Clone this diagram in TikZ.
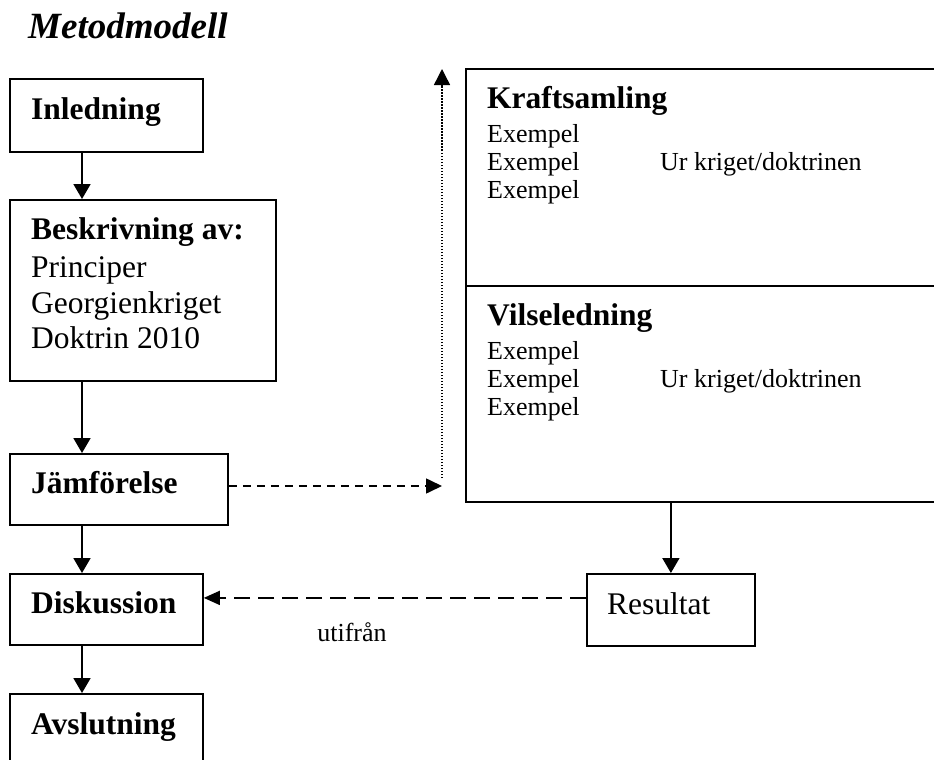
\documentclass[tikz,border=0pt]{standalone}
\usepackage{fontspec}
\setmainfont{Liberation Serif}
\usetikzlibrary{arrows.meta,calc}
\begin{document}
\begin{tikzpicture}[x=1pt,y=-1pt,
  box/.style={draw, line width=1.8pt, inner sep=0pt, anchor=north west},
  bigtext/.style={font=\fontsize{31.5}{36}\selectfont, anchor=base west, inner sep=0pt},
  headtext/.style={font=\fontsize{31.5}{36}\selectfont\bfseries, anchor=base west, inner sep=0pt},
  smalltext/.style={font=\fontsize{26}{28}\selectfont, anchor=base west, inner sep=0pt},
  arr/.style={line width=1.8pt, -{Triangle[length=15pt,width=17pt]}},
  dasharr/.style={line width=1.6pt, dash pattern=on 8pt off 6pt, -{Triangle[length=16pt,width=15pt]}},
  longdasharr/.style={line width=1.6pt, dash pattern=on 16pt off 8pt, -{Triangle[length=16pt,width=14pt]}},
  dotarr/.style={line width=1.4pt, dash pattern=on 1.5pt off 1.5pt, -{Triangle[length=16pt,width=16pt]}}
]
\clip (0,0) rectangle (934,760);
\fill[white] (0,0) rectangle (934,760);

% title
\node[font=\fontsize{37}{40}\selectfont\bfseries\itshape, anchor=base west, inner sep=0pt] (title) at (28,39) {Metodmodell};

% left column boxes
\node[box, minimum width=193pt, minimum height=73pt] (inl) at (9,78) {};
\node[box, minimum width=266pt, minimum height=181pt] (besk) at (9,199) {};
\node[box, minimum width=218pt, minimum height=71pt] (jam) at (9,453) {};
\node[box, minimum width=193pt, minimum height=71pt] (disk) at (9,573) {};
\node[box, minimum width=193pt, minimum height=90pt] (avsl) at (9,693) {};

% right boxes
\node[box, minimum width=520pt, minimum height=217pt] (kraft) at (465,68) {};
\node[box, minimum width=520pt, minimum height=216pt] (vils) at (465,285) {};
\node[box, minimum width=168pt, minimum height=72pt] (res) at (586,573) {};

% texts left
\node[headtext] (tinl) at (31,119) {Inledning};
\node[headtext] (tbesk) at (31,239) {Beskrivning av:};
\node[bigtext] (tprin) at (31,277) {Principer};
\node[bigtext] (tgeo) at (31,313) {Georgienkriget};
\node[bigtext] (tdok) at (31,348) {Doktrin 2010};
\node[headtext] (tjam) at (31,493) {Jämförelse};
\node[headtext] (tdisk) at (31,613) {Diskussion};
\node[headtext] (tavsl) at (31,734) {Avslutning};

% texts right
\node[headtext] (tkraft) at (487,108) {Kraftsamling};
\node[smalltext] (ke1) at (487,142) {Exempel};
\node[smalltext] (ke2) at (487,170) {Exempel};
\node[smalltext] (ke3) at (487,198) {Exempel};
\node[smalltext] (kur) at (660,170) {Ur kriget/doktrinen};
\node[headtext] (tvils) at (487,325) {Vilseledning};
\node[smalltext] (ve1) at (487,359) {Exempel};
\node[smalltext] (ve2) at (487,387) {Exempel};
\node[smalltext] (ve3) at (487,415) {Exempel};
\node[smalltext] (vur) at (660,387) {Ur kriget/doktrinen};
\node[bigtext] (tres) at (607,614) {Resultat};

% connectors
\coordinate (spine) at (82,0);
\draw[arr] (inl.south -| spine) -- (besk.north -| spine);
\draw[arr] (besk.south -| spine) -- (jam.north -| spine);
\draw[arr] (jam.south -| spine) -- (disk.north -| spine);
\draw[arr] (disk.south -| spine) -- (avsl.north -| spine);
\draw[arr] (vils.south -| res.north) -- (res.north);

\coordinate (corner) at (442,486);
\draw[dasharr] (jam.east |- corner) -- (corner);
\coordinate (dotstart) at (442,478);
\coordinate (dotend) at (442,69);
\draw[dotarr] (dotstart) -- (dotend);

\coordinate (dl) at ($(res.west)+(0,-12)$);
\draw[longdasharr] (dl) -- (disk.east |- dl);
\node[smalltext, anchor=base] (utif) at (352,641) {utifrån};
\end{tikzpicture}
\end{document}
